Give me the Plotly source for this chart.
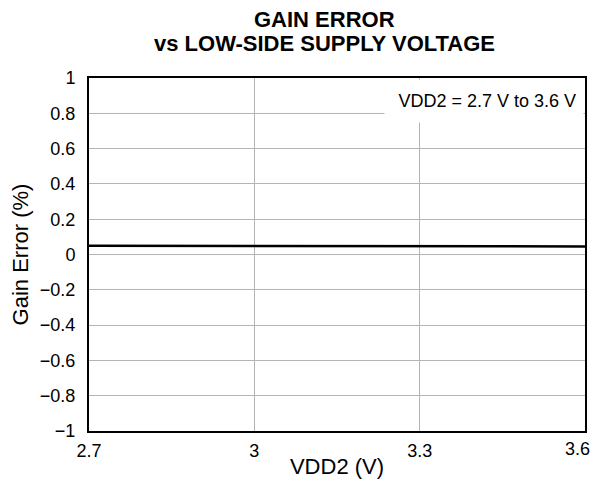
"""Gain error vs low-side supply voltage."""

import plotly.graph_objects as go

FONT = "Liberation Sans, Arial, sans-serif"

vdd2 = [2.7, 3.0, 3.3, 3.6]
gain_error = [0.049, 0.048, 0.047, 0.046]

x_ticks = [2.7, 3.0, 3.3, 3.6]
x_labels = ["2.7", "3", "3.3", "3.6"]
y_ticks = [-1, -0.8, -0.6, -0.4, -0.2, 0, 0.2, 0.4, 0.6, 0.8, 1]

fig = go.Figure()

fig.add_trace(
    go.Scatter(
        x=vdd2,
        y=gain_error,
        mode="lines",
        line=dict(color="black", width=2.5),
        showlegend=False,
    )
)

# condition note, white box hides the grid behind it
fig.add_annotation(
    text="VDD2 = 2.7 V to 3.6 V",
    xref="x domain",
    yref="y domain",
    x=1,
    y=1,
    xshift=-1,
    yshift=-1,
    xanchor="right",
    yanchor="top",
    width=184,
    height=28,
    align="right",
    valign="middle",
    bgcolor="white",
    borderpad=7,
    showarrow=False,
    font=dict(family=FONT, size=18, color="black"),
)

for txt, y in [("GAIN ERROR", 1.166), ("vs LOW-SIDE SUPPLY VOLTAGE", 1.099)]:
    fig.add_annotation(
        text=f"<b>{txt}</b>",
        xref="paper",
        yref="paper",
        x=0.474,
        y=y,
        xanchor="center",
        yanchor="middle",
        showarrow=False,
        font=dict(family=FONT, size=22, color="black"),
    )

# last x tick label would be clipped at the window edge, so it is pulled in a bit
fig.add_annotation(
    text=x_labels[-1],
    xref="x",
    yref="y domain",
    x=x_ticks[-1],
    y=0,
    xanchor="right",
    yanchor="middle",
    xshift=7,
    yshift=-18,
    showarrow=False,
    font=dict(family=FONT, size=18, color="black"),
)

# page body adds an 8 px offset, so the figure is sized to fit the window
fig.update_layout(
    width=592,
    height=471,
    margin=dict(l=81, r=15, t=70, b=48, autoexpand=False),
    plot_bgcolor="white",
    paper_bgcolor="white",
    font=dict(family=FONT, size=18, color="black"),
    xaxis=dict(
        range=[2.7, 3.6],
        tickvals=x_ticks,
        ticktext=x_labels[:-1] + [""],
        showgrid=True,
        gridcolor="#b4b4b4",
        gridwidth=1,
        showline=True,
        linecolor="black",
        linewidth=2,
        mirror=True,
        zeroline=False,
        ticks="",
        ticklabelstandoff=2,
        automargin=False,
        title=dict(text="VDD2 (V)", standoff=3),
    ),
    yaxis=dict(
        range=[-1, 1],
        tickvals=y_ticks,
        showgrid=True,
        gridcolor="#b4b4b4",
        gridwidth=1,
        showline=True,
        linecolor="black",
        linewidth=2,
        mirror=True,
        zeroline=False,
        ticks="",
        ticklabelstandoff=8,
        automargin=False,
        title=dict(text="Gain Error (%)", standoff=14),
    ),
)

fig.write_html("out.html")
